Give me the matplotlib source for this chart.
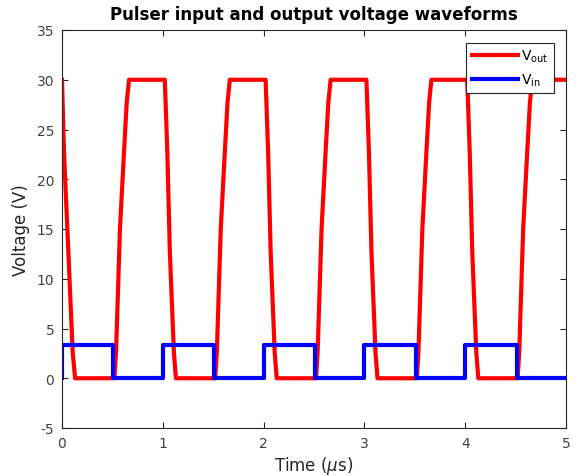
import matplotlib
matplotlib.use('Agg')
import matplotlib.pyplot as plt

plt.rcParams['axes.unicode_minus'] = False

# Output voltage breakpoints (time in us, voltage in V)
t_out = [0.0, 0.02, 0.063, 0.106, 0.13,
         0.52, 0.536, 0.575, 0.615, 0.642, 0.665,
         1.02, 1.045, 1.07, 1.11, 1.13,
         1.52, 1.536, 1.575, 1.615, 1.642, 1.665,
         2.02, 2.045, 2.07, 2.11, 2.13,
         2.52, 2.536, 2.575, 2.615, 2.642, 2.665,
         3.02, 3.045, 3.07, 3.11, 3.13,
         3.52, 3.536, 3.575, 3.615, 3.642, 3.665,
         4.02, 4.045, 4.07, 4.11, 4.13,
         4.52, 4.536, 4.575, 4.615, 4.642, 4.665,
         5.0]
v_out = [30, 22.7, 12.7, 2.6, 0,
         0, 2.6, 15, 22.7, 27.7, 30,
         30, 22.7, 12.7, 2.6, 0,
         0, 2.6, 15, 22.7, 27.7, 30,
         30, 22.7, 12.7, 2.6, 0,
         0, 2.6, 15, 22.7, 27.7, 30,
         30, 22.7, 12.7, 2.6, 0,
         0, 2.6, 15, 22.7, 27.7, 30,
         30, 22.7, 12.7, 2.6, 0,
         0, 2.6, 15, 22.7, 27.7, 30,
         30]

# Input voltage (square wave) breakpoints
t_in = [0.0, 0.0, 0.51, 0.51, 1.0, 1.0, 1.51, 1.51, 2.0, 2.0, 2.51, 2.51,
        3.0, 3.0, 3.51, 3.51, 4.0, 4.0, 4.51, 4.51, 5.0]
v_in = [0, 3.3, 3.3, 0, 0, 3.3, 3.3, 0, 0, 3.3, 3.3, 0,
        0, 3.3, 3.3, 0, 0, 3.3, 3.3, 0, 0]

x_ticks = [0, 1, 2, 3, 4, 5]
y_ticks = [-5, 0, 5, 10, 15, 20, 25, 30, 35]

fig = plt.figure(figsize=(5.82, 4.77), dpi=100)
ax = fig.add_axes([62 / 582, 48 / 477, 504 / 582, 398 / 477])

ax.plot(t_out, v_out, color='#ff0000', linewidth=3, label=r'V$_{\mathregular{out}}$')
ax.plot(t_in, v_in, color='#0000ff', linewidth=3, label=r'V$_{\mathregular{in}}$')

ax.set_xlim(0, 5)
ax.set_ylim(-5, 35)
ax.set_xticks(x_ticks)
ax.set_yticks(y_ticks)
ax.tick_params(direction='in', top=True, right=True, length=4, width=0.8,
               colors='#262626', labelcolor='#404040', labelsize=10, pad=5.5)
for s in ax.spines.values():
    s.set_color('#262626')
    s.set_linewidth(0.8)

ax.set_xlabel(r'Time ($\mu$s)', fontsize=12, color='#262626', labelpad=3)
ax.set_ylabel('Voltage (V)', fontsize=12, color='#262626', labelpad=5)
ax.set_title('Pulser input and output voltage waveforms', fontsize=12,
             fontweight='bold', pad=8)

leg = ax.legend(loc='upper right', fontsize=10, fancybox=False, framealpha=1,
                edgecolor='#262626', handlelength=3.3, handletextpad=0.2,
                borderaxespad=0.9, labelspacing=0.5)
leg.get_frame().set_linewidth(0.8)

fig.savefig('out.png', dpi=100)
